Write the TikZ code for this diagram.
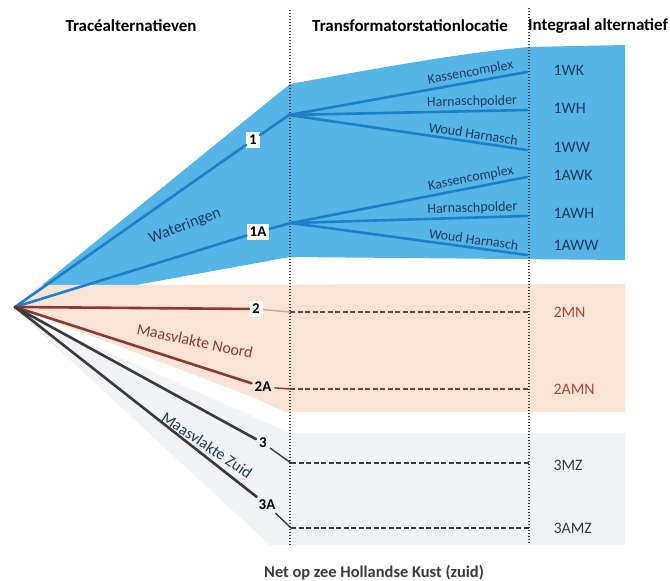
\documentclass[tikz,border=0pt]{standalone}
\usepackage{fontspec}
\setmainfont{Carlito}
\usetikzlibrary{positioning}

\definecolor{vlakblauw}{HTML}{55B5E7}
\definecolor{lijnblauw}{HTML}{1C80C6}
\definecolor{navy}{HTML}{1F3A5F}
\definecolor{perzik}{HTML}{FBE4D6}
\definecolor{bruin}{HTML}{8A3A35}
\definecolor{roodbruin}{HTML}{A8483F}
\definecolor{lichtgrijs}{HTML}{F1F3F6}
\definecolor{donkergrijs}{HTML}{3A3A3A}

\tikzset{
  kop/.style={font=\bfseries\fontsize{17}{20}\selectfont},
  grens/.style={line width=1.6bp, dash pattern=on 1.4bp off 1.6bp, black!75},
  kabel/.style={line width=2.6bp, line cap=round},
  stukje/.style={line width=1.4bp},
  koppeling/.style={line width=2bp, dash pattern=on 5bp off 2.5bp},
  nummer/.style={fill=white, inner sep=3bp, font=\bfseries\fontsize{15}{18}\selectfont},
  station/.style={font=\fontsize{14}{16}\selectfont, text=navy, sloped, above, pos=0.77, inner sep=2bp},
  alt/.style={anchor=west, font=\fontsize{16}{19}\selectfont},
  trace/.style={font=\fontsize{16}{19}\selectfont}
}

\begin{document}
\begin{tikzpicture}[x=1bp,y=-1bp]
  \useasboundingbox (0,0) rectangle (670,581);

  % vlakken
  \fill[vlakblauw] (15,307) -- (290,84) .. controls (400,64) and (470,52) .. (529,47)
    -- (625,45) -- (625,260) -- (290,257) -- cycle;
  \fill[perzik] (15,307) -- (40,285) -- (625,284) -- (625,412) -- (285,412) -- (250,396) -- cycle;
  \fill[lichtgrijs] (18,312) -- (290,433) -- (625,433) -- (625,545) -- (270,545) -- cycle;

  % kolomgrenzen
  \coordinate (g1boven) at (290,10);
  \coordinate (g1onder) at (290,545);
  \coordinate (g2boven) at (529,8);
  \coordinate (g2onder) at (529,545);
  \draw[grens] (g1boven) -- (g1onder);
  \draw[grens] (g2boven) -- (g2onder);

  \node[kop] (kop1) at (131,26) {Tracéalternatieven};
  \node[kop] (kop2) at (410,26) {Transformatorstationlocatie};
  \node[kop] (kop3) at (598,26) {Integraal alternatief};

  \coordinate (bron) at (15,307);

  % Wateringen
  \node[nummer] (n1) at (253,140) {1};
  \node[nummer] (n1A) at (258,232) {1A};
  \coordinate (s1) at (289,115);
  \coordinate (s1A) at (291,223);
  \draw[kabel, lijnblauw] (bron) -- (n1) -- (s1);
  \draw[kabel, lijnblauw] (bron) -- (n1A) -- (s1A);
  \node[trace, text=navy, rotate=21] (wat) at (185,226) {Wateringen};

  \coordinate (k1) at (527,72);
  \coordinate (h1) at (527,110);
  \coordinate (w1) at (527,150);
  \coordinate (k1A) at (527,177);
  \coordinate (h1A) at (527,216);
  \coordinate (w1A) at (527,255);
  \foreach \s in {1,1A}{
    \draw[kabel, lijnblauw] (s\s) -- node[station] {Kassencomplex} (k\s);
    \draw[kabel, lijnblauw] (s\s) -- node[station] {Harnaschpolder} (h\s);
    \draw[kabel, lijnblauw] (s\s) -- node[station] {Woud Harnasch} (w\s);
  }

  \foreach \naam/\y in {1WK/70,1WH/108,1WW/147,1AWK/175,1AWH/213,1AWW/245}
    \node[alt, text=navy] (a\naam) at (550,\y) {\naam};

  % Maasvlakte Noord
  \node[nummer] (n2) at (256,309) {2};
  \node[nummer, fill=none] (n2A) at (263,387) {2A};
  \coordinate (d2) at (290,312);
  \coordinate (e2) at (529,312);
  \coordinate (d2A) at (290,389);
  \coordinate (e2A) at (529,389);
  \draw[kabel, bruin] (bron) -- (n2);
  \draw[kabel, bruin] (bron) -- (n2A);
  \draw[stukje, bruin!45] (n2) -- (d2);
  \draw[stukje, bruin] (n2A) -- (d2A);
  \draw[koppeling, bruin] (d2) -- (e2);
  \draw[koppeling, bruin] (d2A) -- (e2A);
  \node[trace, text=bruin, rotate=-12] (mvn) at (195,341) {Maasvlakte Noord};
  \node[alt, text=roodbruin] (a2MN) at (550,312) {2MN};
  \node[alt, text=roodbruin] (a2AMN) at (550,389) {2AMN};

  % Maasvlakte Zuid
  \node[nummer, fill=none] (n3) at (263,443) {3};
  \node[nummer, fill=none] (n3A) at (267,505) {3A};
  \coordinate (d3) at (291,463);
  \coordinate (e3) at (529,463);
  \coordinate (d3A) at (291,528);
  \coordinate (e3A) at (529,528);
  \draw[kabel, donkergrijs] (bron) -- (n3);
  \draw[kabel, donkergrijs] (bron) -- (n3A);
  \draw[stukje, donkergrijs] (n3) -- (d3);
  \draw[stukje, donkergrijs] (n3A) -- (d3A);
  \draw[koppeling, donkergrijs] (d3) -- (e3);
  \draw[koppeling, donkergrijs] (d3A) -- (e3A);
  \node[trace, text=navy, rotate=-34] (mvz) at (207,445) {Maasvlakte Zuid};
  \node[alt, text=donkergrijs] (a3MZ) at (550,465) {3MZ};
  \node[alt, text=donkergrijs] (a3AMZ) at (550,528) {3AMZ};

  \node[font=\bfseries\fontsize{16.5}{19}\selectfont, text=donkergrijs] (titel) at (374,573)
    {Net op zee Hollandse Kust (zuid)};
\end{tikzpicture}
\end{document}
